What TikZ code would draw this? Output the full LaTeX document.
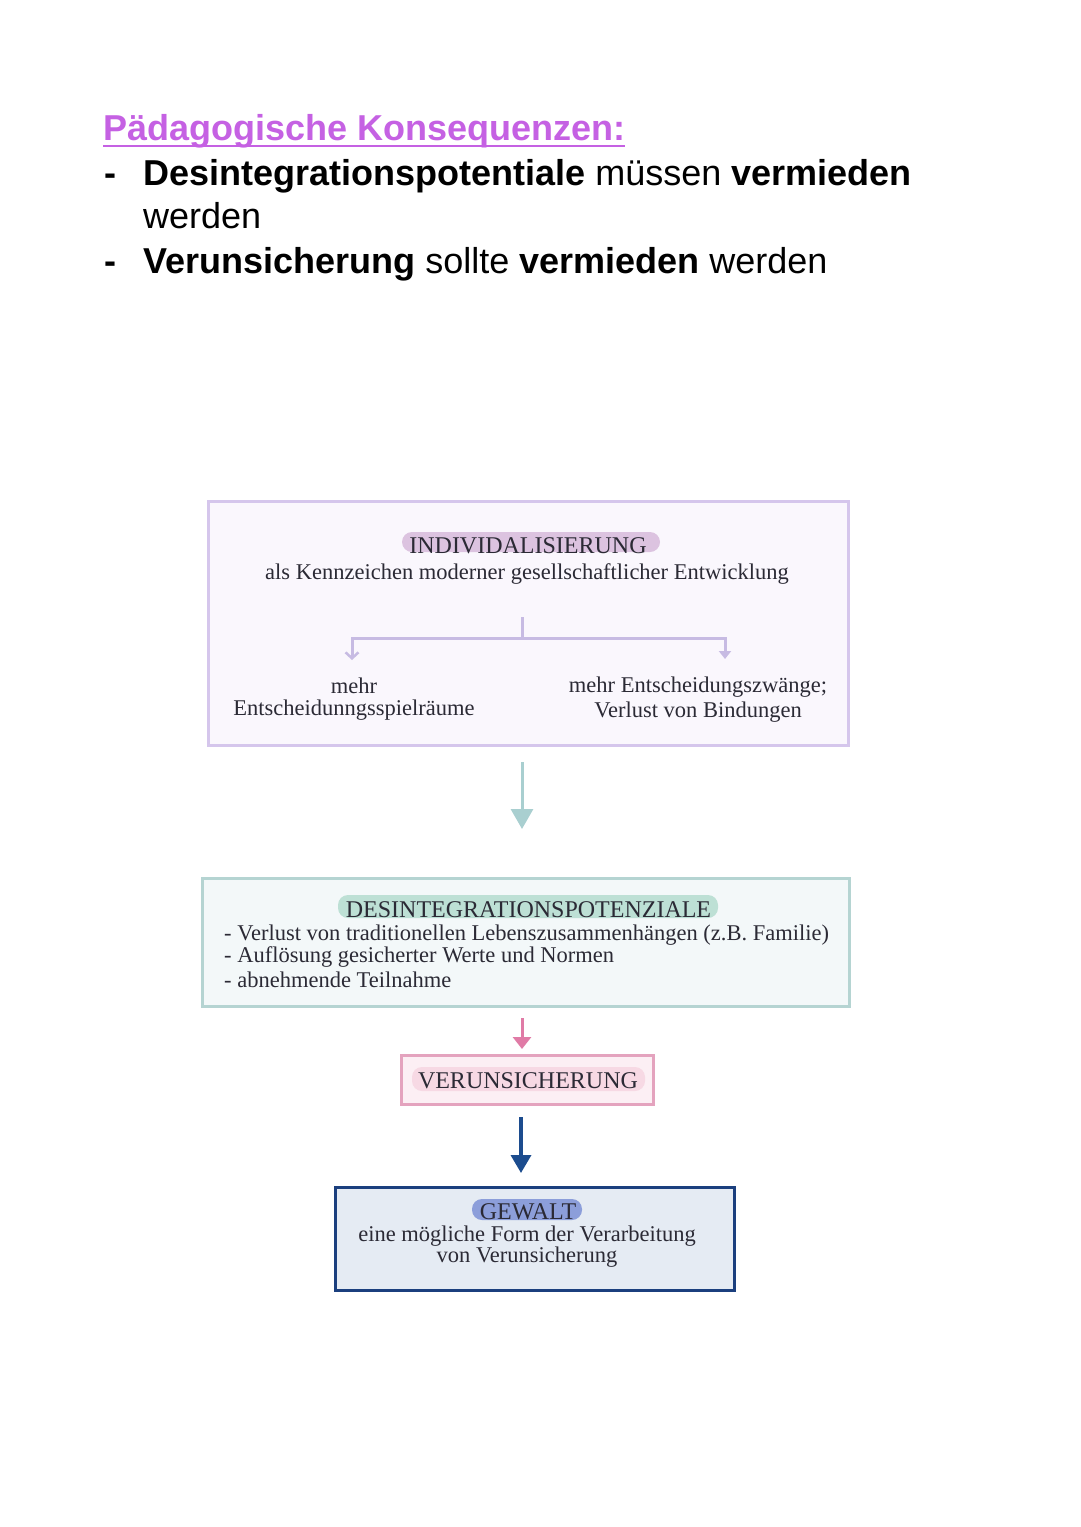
\documentclass[tikz,border=0pt]{standalone}
\usepackage{fontspec}
\setmainfont{Liberation Serif}
\newfontfamily\hdrfont{Liberation Sans}
\usetikzlibrary{arrows.meta}
\definecolor{hviolet}{HTML}{C561E3}
\definecolor{lavborder}{HTML}{D5C6EC}
\definecolor{lavfill}{HTML}{FAF7FD}
\definecolor{pillA}{HTML}{DCC3E0}
\definecolor{lavline}{HTML}{C7BBE3}
\definecolor{tealarrow}{HTML}{A9CFD0}
\definecolor{tealborder}{HTML}{B5D4D2}
\definecolor{tealfill}{HTML}{F3F8F9}
\definecolor{pillB}{HTML}{BDE0D5}
\definecolor{pinkarrow}{HTML}{E07BA6}
\definecolor{pinkborder}{HTML}{E4A3BE}
\definecolor{pinkfill}{HTML}{FCEFF4}
\definecolor{pillC}{HTML}{F7D9E4}
\definecolor{navyarrow}{HTML}{1C4C8E}
\definecolor{navyborder}{HTML}{1B3F7E}
\definecolor{navyfill}{HTML}{E5EBF3}
\definecolor{pillD}{HTML}{8C9EDA}
\definecolor{dtext}{HTML}{2B2A35}
\tikzset{
  hdr/.style={font=\hdrfont\fontsize{36}{42}\selectfont, inner sep=0pt, anchor=base west, text=black},
  dtxt/.style={font=\fontsize{22.5}{26}\selectfont, inner sep=0pt, anchor=base, text=dtext},
  ttl/.style={font=\fontsize{24}{28}\selectfont, inner sep=0pt, anchor=base, text=dtext},
  frame/.style={draw=#1, line width=3pt, inner sep=0pt},
  pillbg/.style={fill=#1, rounded corners=10pt, inner sep=0pt},
}
\begin{document}
\begin{tikzpicture}[x=1pt,y=-1pt]
\useasboundingbox[fill=white] (0,0) rectangle (1080,1527);

% header
\node[hdr, text=hviolet] (h1) at (103,140) {\bfseries Pädagogische Konsequenzen:};
\draw[hviolet, line width=2.4pt] ([yshift=-6pt]h1.base west) -- ([yshift=-6pt]h1.base east);
\node[hdr] (d1) at (104,185) {\textbf{-}};
\node[hdr] (b1) at (143,185) {\textbf{Desintegrationspotentiale} müssen \textbf{vermieden}};
\node[hdr] (b1b) at (143,228) {werden};
\node[hdr] (d2) at (104,273) {\textbf{-}};
\node[hdr] (b2) at (143,273) {\textbf{Verunsicherung} sollte \textbf{vermieden} werden};

% box 1
\node[frame=lavborder, fill=lavfill, minimum width=640pt, minimum height=244pt] (B1) at (528.5,623.5) {};
\node[pillbg=pillA, minimum width=258pt, minimum height=20pt] (t1bg) at (531,542) {};
\node[ttl] (t1) at (528,553) {INDIVIDALISIERUNG};
\node[dtxt] (s1) at (527,579) {als Kennzeichen moderner gesellschaftlicher Entwicklung};
\coordinate (fork) at (522,617);
\coordinate (forkm) at (522,638);
\coordinate (lend) at (352,660);
\coordinate (rend) at (725,659);
\draw[lavline, line width=3pt] (fork) -- (forkm);
\draw[lavline, line width=3pt, -{Straight Barb[length=6pt,width=13pt,line width=2.5pt]}] (forkm) -| (lend);
\draw[lavline, line width=3pt, -{Triangle[length=8pt,width=12pt]}] (forkm) -| (rend);
\node[dtxt] (l1) at (354,693) {mehr};
\node[dtxt] (l2) at (354,715) {Entscheidunngsspielräume};
\node[dtxt] (r1) at (698,692) {mehr Entscheidungszwänge;};
\node[dtxt] (r2) at (698,717) {Verlust von Bindungen};

% arrow 1
\coordinate (a1s) at (522,762);
\coordinate (a1e) at (522,829);
\draw[tealarrow, line width=3pt, -{Triangle[length=20pt,width=22pt]}] (a1s) -- (a1e);

% box 2
\node[frame=tealborder, fill=tealfill, minimum width=647pt, minimum height=128pt] (B2) at (526,942.5) {};
\node[pillbg=pillB, minimum width=380pt, minimum height=23pt] (t2bg) at (528,906.5) {};
\node[ttl] (t2) at (528.5,917) {DESINTEGRATIONSPOTENZIALE};
\node[dtxt, anchor=base west] (p1) at (224,940) {- Verlust von traditionellen Lebenszusammenhängen (z.B. Familie)};
\node[dtxt, anchor=base west] (p2) at (224,962) {- Auflösung gesicherter Werte und Normen};
\node[dtxt, anchor=base west] (p3) at (224,987) {- abnehmende Teilnahme};

% arrow 2
\coordinate (a2s) at (522,1018);
\coordinate (a2e) at (522,1049);
\draw[pinkarrow, line width=3pt, -{Triangle[length=12pt,width=18pt]}] (a2s) -- (a2e);

% box 3
\node[frame=pinkborder, fill=pinkfill, minimum width=252pt, minimum height=49pt] (B3) at (527.5,1080) {};
\node[pillbg=pillC, minimum width=233pt, minimum height=24pt] (t3bg) at (528.5,1079) {};
\node[ttl] (t3) at (528,1088) {VERUNSICHERUNG};

% arrow 3
\coordinate (a3s) at (521,1117);
\coordinate (a3e) at (521,1173);
\draw[navyarrow, line width=3.5pt, -{Triangle[length=18pt,width=20pt]}] (a3s) -- (a3e);

% box 4
\node[frame=navyborder, line width=3.5pt, fill=navyfill, minimum width=399pt, minimum height=103pt] (B4) at (535,1239) {};
\node[pillbg=pillD, minimum width=110pt, minimum height=21pt] (t4bg) at (527,1209.5) {};
\node[ttl] (t4) at (528,1219) {GEWALT};
\node[dtxt] (g1) at (527,1241) {eine mögliche Form der Verarbeitung};
\node[dtxt] (g2) at (527,1262) {von Verunsicherung};
\end{tikzpicture}
\end{document}
